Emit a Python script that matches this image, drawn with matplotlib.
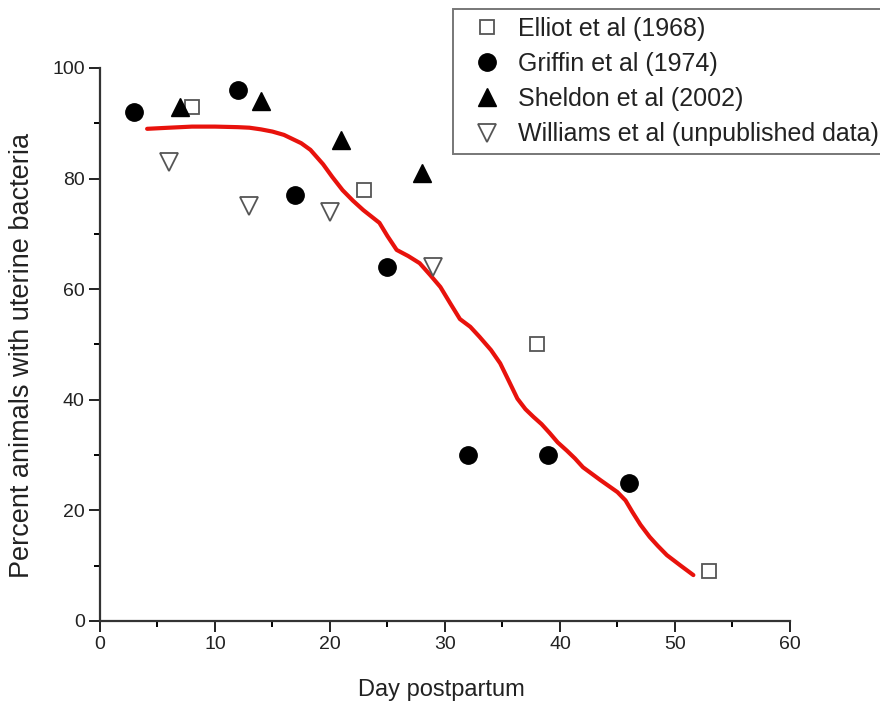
import numpy as np
import matplotlib
matplotlib.use("Agg")
import matplotlib.pyplot as plt
from matplotlib.ticker import MultipleLocator

plt.rcParams['font.family'] = ['Liberation Sans', 'DejaVu Sans']

# Données
elliot_x = [8, 23, 38, 53]
elliot_y = [93, 78, 50, 9]

griffin_x = [3, 12, 17, 25, 32, 39, 46]
griffin_y = [92, 96, 77, 64, 30, 30, 25]

sheldon_x = [7, 14, 21, 28]
sheldon_y = [93, 94, 87, 81]

williams_x = [6, 13, 20, 29]
williams_y = [83, 75, 74, 64]

# Courbe d'ajustement (rouge)
fit_x = [4.1, 6, 8, 10, 12, 13, 14, 15, 16, 16.5, 17.5, 18.3, 19.4, 20.2, 21.1,
         22.0, 22.9, 24.3, 25.0, 25.8, 26.8, 27.8, 28.7, 29.6, 30.5, 31.3, 32.2,
         33.0, 34.0, 34.8, 35.6, 36.3, 37.0, 37.7, 38.4, 39.1, 39.8, 40.6, 41.3,
         42.0, 43.5, 45.0, 45.7, 46.3, 47.0, 47.8, 48.5, 49.3, 50.5, 51.6]
fit_y = [89, 89.2, 89.4, 89.4, 89.3, 89.2, 88.9, 88.5, 87.9, 87.4, 86.4, 85.2,
         82.6, 80.3, 77.9, 76.0, 74.3, 72.0, 69.6, 67.1, 66.0, 64.7, 62.6, 60.4,
         57.3, 54.6, 53.2, 51.4, 49.0, 46.6, 43.2, 40.2, 38.3, 36.9, 35.6, 34.0,
         32.3, 30.8, 29.4, 27.8, 25.5, 23.3, 21.8, 19.7, 17.4, 15.2, 13.6, 11.9,
         10.0, 8.3]

fig = plt.figure(figsize=(8.8, 7.06), dpi=100)
ax = fig.add_axes([0.1136, 0.1204, 0.7841, 0.7833])

ax.plot(fit_x, fit_y, color='#e8120c', lw=3, zorder=2, solid_capstyle='round')

h1, = ax.plot(elliot_x, elliot_y, 's', ms=10.5, mfc='white', mec='#555555', mew=1.3,
              ls='none', label='Elliot et al (1968)', zorder=3)
h2, = ax.plot(griffin_x, griffin_y, 'o', ms=12.5, color='black', ls='none',
              label='Griffin et al (1974)', zorder=3)
h3, = ax.plot(sheldon_x, sheldon_y, '^', ms=12.5, color='black', ls='none',
              label='Sheldon et al (2002)', zorder=3)
h4, = ax.plot(williams_x, williams_y, 'v', ms=13.5, mfc='white', mec='#555555', mew=1.3,
              ls='none', label='Williams et al (unpublished data)', zorder=3)

ax.set_xlim(0, 60)
ax.set_ylim(0, 100)
ax.xaxis.set_major_locator(MultipleLocator(10))
ax.xaxis.set_minor_locator(MultipleLocator(5))
ax.yaxis.set_major_locator(MultipleLocator(20))
ax.yaxis.set_minor_locator(MultipleLocator(10))
ax.tick_params(which='major', direction='out', length=8, width=1.4, labelsize=14,
               colors='#222222', pad=3)
ax.tick_params(which='minor', direction='out', length=4.5, width=1.4)

for s in ['top', 'right']:
    ax.spines[s].set_visible(False)
for s in ['left', 'bottom']:
    ax.spines[s].set_linewidth(1.6)
    ax.spines[s].set_color('#333333')

ax.set_xlabel("Day postpartum", fontsize=17, color='#222222')
ax.set_ylabel("Percent animals with uterine bacteria", fontsize=19.5, color='#222222')
ax.xaxis.set_label_coords(0.495, -0.105)
ax.yaxis.set_label_coords(-0.094, 0.48)

leg = fig.legend(handles=[h1, h2, h3, h4], loc='upper left',
                 bbox_to_anchor=(0.515, 0.987), fontsize=18, frameon=True,
                 fancybox=False, edgecolor='#555555', handletextpad=0.2,
                 borderpad=0.3, labelspacing=0.45, handlelength=2.1,
                 borderaxespad=0)
leg.get_frame().set_linewidth(1.4)
for t in leg.get_texts():
    t.set_color('#222222')

fig.savefig("out.png", dpi=100)
